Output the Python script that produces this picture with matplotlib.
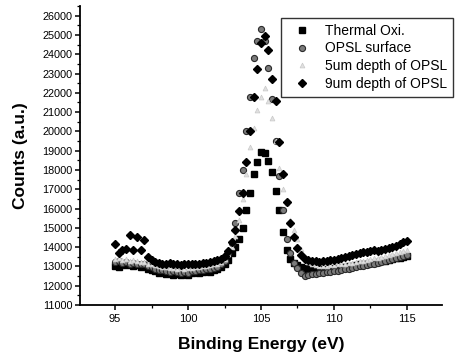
import matplotlib
matplotlib.use("Agg")
import matplotlib.pyplot as plt
from matplotlib.ticker import MultipleLocator

plt.rcParams['font.family'] = ['Liberation Sans', 'DejaVu Sans']

energy = [95.0,95.25,95.5,95.75,96.0,96.25,96.5,96.75,97.0,97.25,97.5,97.75,98.0,98.25,98.5,98.75,
          99.0,99.25,99.5,99.75,100.0,100.25,100.5,100.75,101.0,101.25,101.5,101.75,102.0,102.25,102.5,102.75,
          103.0,103.25,103.5,103.75,104.0,104.25,104.5,104.75,105.0,105.25,105.5,105.75,106.0,106.25,106.5,106.75,
          107.0,107.25,107.5,107.75,108.0,108.25,108.5,108.75,109.0,109.25,109.5,109.75,110.0,110.25,110.5,110.75,
          111.0,111.25,111.5,111.75,112.0,112.25,112.5,112.75,113.0,113.25,113.5,113.75,114.0,114.25,114.5,114.75,115.0]

thermal = [13000,12950,13100,13050,13100,13000,13050,12950,13000,12850,12800,12750,12650,12700,12600,12650,
           12550,12600,12550,12600,12550,12650,12700,12650,12700,12750,12700,12800,12850,12950,13100,13350,
           13700,14000,14400,15000,15900,16800,17800,18400,18950,18900,18450,17900,16900,15950,14800,13850,
           13400,13200,13050,12950,12900,12850,12850,12800,12850,12800,12850,12900,12850,12900,12950,12950,
           13000,13000,13050,13100,13100,13150,13200,13200,13250,13300,13300,13350,13400,13450,13450,13500,13550]

opsl_surface = [13250,13300,13200,13250,13150,13200,13150,13100,13100,13000,12950,12850,12800,12800,12750,12700,
                12750,12700,12650,12700,12650,12750,12750,12800,12800,12850,12850,12900,12950,13100,13300,13700,
                14200,15250,16800,18000,20000,21800,23800,24700,25300,24700,23300,21700,19500,17700,15900,14400,
                13700,13200,12900,12650,12500,12550,12600,12600,12650,12650,12700,12700,12750,12750,12800,12850,
                12850,12900,12950,13000,13000,13050,13100,13150,13200,13250,13300,13350,13400,13450,13500,13550,13600]

depth_5um = [13400,13450,13350,13400,13300,13350,13300,13250,13250,13150,13100,13050,13000,12950,12950,12900,
             12900,12850,12900,12850,12900,12900,12950,12950,13000,13000,13050,13100,13150,13250,13400,13650,
             14000,14600,15400,16500,17800,19200,20200,21100,21800,22250,21600,20700,19500,18100,17000,16300,
             15400,14900,14400,13900,13500,13250,13100,13050,13000,13000,13000,13050,13050,13100,13100,13150,
             13200,13200,13250,13300,13300,13350,13400,13450,13450,13500,13550,13600,13650,13700,13750,13800,13850]

depth_9um = [14150,13700,13850,13900,14650,13850,14550,13850,14350,13500,13350,13250,13200,13150,13100,13200,
             13100,13150,13050,13100,13150,13100,13150,13150,13200,13200,13250,13300,13350,13400,13550,13800,
             14250,14900,15850,16800,18400,20000,21800,23250,24600,24950,24200,22700,21600,19450,17800,16350,
             15250,14550,13950,13600,13400,13350,13300,13300,13250,13300,13300,13350,13350,13400,13450,13500,
             13550,13600,13650,13700,13750,13750,13800,13850,13800,13850,13900,13950,14000,14050,14150,14250,14300]

labels = ["Thermal Oxi.", "OPSL surface", "5um depth of OPSL", "9um depth of OPSL"]

fig = plt.figure(figsize=(4.58, 3.54), dpi=100)
ax = fig.add_axes([80/458, 1-305/354, (442-80)/458, (305-6)/354])

ax.plot(energy, thermal, ls='none', marker='s', ms=4.2, mfc='black', mec='black', label=labels[0])
ax.plot(energy, opsl_surface, ls='none', marker='o', ms=4.4, mfc='#7a7a7a', mec='#2a2a2a', mew=0.8, label=labels[1])
ax.plot(energy, depth_5um, ls='none', marker='^', ms=3.5, mfc='#e0e0e0', mec='#c8c8c8', mew=0.5, label=labels[2])
ax.plot(energy, depth_9um, ls='none', marker='D', ms=4.2, mfc='black', mec='black', label=labels[3])

ax.set_xlim(92.6, 117.4)
ax.set_ylim(11000, 26500)
ax.set_xticks([95, 100, 105, 110, 115])
ax.set_yticks(list(range(11000, 26001, 1000)))
ax.xaxis.set_minor_locator(MultipleLocator(2.5))
ax.yaxis.set_minor_locator(MultipleLocator(500))

for s in ['top', 'right']:
    ax.spines[s].set_visible(False)
for s in ['left', 'bottom']:
    ax.spines[s].set_linewidth(1.3)

ax.tick_params(which='major', direction='out', length=3.5, width=1.1, labelsize=7.8, pad=2)
ax.tick_params(which='minor', direction='out', length=2, width=0.9)
ax.tick_params(axis='x', labelsize=8, pad=3)

ax.set_xlabel("Binding Energy (eV)", fontsize=12.5, fontweight='bold', labelpad=9)
ax.set_ylabel("Counts (a.u.)", fontsize=12.5, fontweight='bold', labelpad=10)

leg = ax.legend(loc='upper left', bbox_to_anchor=(280.7/458, 1-18/354), bbox_transform=fig.transFigure,
                frameon=True, fancybox=False, edgecolor='black', fontsize=10, labelspacing=0.28,
                handletextpad=0.6, borderpad=0.4, handlelength=2.2, borderaxespad=0)
leg.get_frame().set_linewidth(1.0)

fig.savefig("out.png", dpi=100)
